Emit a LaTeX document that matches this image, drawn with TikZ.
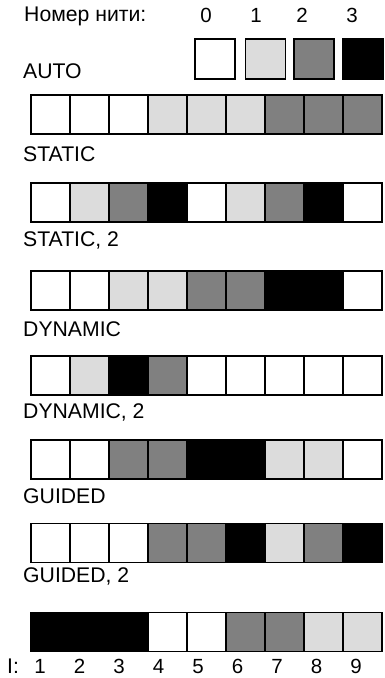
\documentclass[tikz,border=0pt]{standalone}
\usepackage{fontspec}
\setmainfont{Liberation Sans}
\definecolor{c0}{HTML}{FFFFFF}
\definecolor{c1}{HTML}{DCDCDC}
\definecolor{c2}{HTML}{808080}
\definecolor{c3}{HTML}{000000}
\tikzset{
  cell/.style={draw=black, line width=1.6pt, minimum size=39pt, inner sep=0pt, outer sep=0pt, fill=#1},
  legcell/.style={draw=black, line width=1.6pt, minimum size=40pt, inner sep=0pt, outer sep=0pt, fill=#1},
  lbl/.style={anchor=base west, inner sep=0pt, font=\fontsize{21.2}{25}\selectfont},
  hdr/.style={anchor=base west, inner sep=0pt, font=\fontsize{21.2}{25}\selectfont},
  num/.style={anchor=base, inner sep=0pt, font=\fontsize{20.5}{25}\selectfont}
}
\begin{document}
\begin{tikzpicture}[x=1pt,y=-1pt]
\useasboundingbox (0,0) rectangle (384,678);
% header
\node[hdr] (hdr) at (24,21.5) {Номер нити:};
\foreach \n/\x in {0/206,1/256,2/302,3/352}
  \node[num] (t\n) at (\x,22.5) {\n};
% legend
\foreach \n/\x in {0/215,1/265.5,2/314,3/363}
  \node[legcell=c\n] (leg\n) at (\x,59) {};
% labels
\node[lbl] (lauto) at (23,78) {AUTO};
\node[lbl] (lstatic) at (23,161.5) {STATIC};
\node[lbl] (lstatic2) at (23,246) {STATIC, 2};
\node[lbl] (ldyn) at (23,336) {DYNAMIC};
\node[lbl] (ldyn2) at (23,418) {DYNAMIC, 2};
\node[lbl] (lguided) at (23,503) {GUIDED};
\node[lbl] (lguided2) at (23,582) {GUIDED, 2};
% rows
\foreach \r/\y/\cols in {
  1/114.5/{0,0,0,1,1,1,2,2,2},
  2/202.5/{0,1,2,3,0,1,2,3,0},
  3/290.5/{0,0,1,1,2,2,3,3,0},
  4/375.5/{0,1,3,2,0,0,0,0,0},
  5/459.5/{0,0,2,2,3,3,1,1,0},
  6/543/{0,0,0,2,2,3,1,2,3},
  7/632/{3,3,3,0,0,2,2,1,1}}{
  \foreach \c [count=\i] in \cols
    \node[cell=c\c] (r\r c\i) at ({50.5+39*(\i-1)},\y) {};
}
% bottom index
\node[lbl] (ilbl) at (7,673.5) {I:};
\foreach \i in {1,...,9}
  \node[num] (i\i) at ({40+39.5*(\i-1)},673.5) {\i};
\end{tikzpicture}
\end{document}
